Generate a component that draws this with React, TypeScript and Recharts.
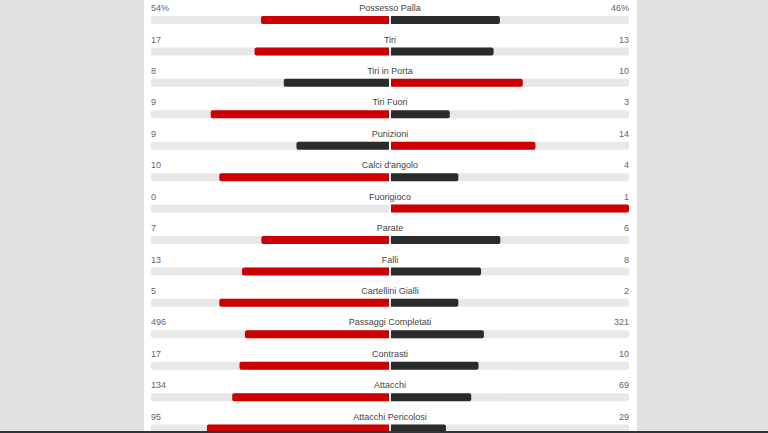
import { BarChart, Bar, XAxis, YAxis, Cell, LabelList, Rectangle } from "recharts";

const stats = [
  "Possesso Palla",
  "Tiri",
  "Tiri in Porta",
  "Tiri Fuori",
  "Punizioni",
  "Calci d'angolo",
  "Fuorigioco",
  "Parate",
  "Falli",
  "Cartellini Gialli",
  "Passaggi Completati",
  "Contrasti",
  "Attacchi",
  "Attacchi Pericolosi",
];
const home = [54, 17, 8, 9, 9, 10, 0, 7, 13, 5, 496, 17, 134, 95];
const away = [46, 13, 10, 3, 14, 4, 1, 6, 8, 2, 321, 10, 69, 29];
const suffix = ["%", "", "", "", "", "", "", "", "", "", "", "", "", ""];

const RED = "#cc0000";
const DARK = "#2b2b2b";
const TRACK = "#e8e8e8";

const data = stats.map((name, i) => {
  const total = home[i] + away[i] || 1;
  return {
    name,
    trackL: [-1, 0],
    trackR: [0, 1],
    left: [-home[i] / total, 0],
    right: [0, away[i] / total],
  };
});

// half bars leave a 1px white gap either side of the centre line
function LeftShape(props: any) {
  const { x, y, width, height, fill } = props;
  const w = Math.abs(width) - 1;
  if (w <= 0) return null;
  return <Rectangle x={x} y={y} width={w} height={height} fill={fill} radius={[2, 0, 0, 2]} />;
}

function RightShape(props: any) {
  const { x, y, width, height, fill } = props;
  const w = Math.abs(width) - 1;
  if (w <= 0) return null;
  return <Rectangle x={x + 1} y={y} width={w} height={height} fill={fill} radius={[0, 2, 2, 0]} />;
}

function RowLabels(props: any) {
  const { x, y, width, index } = props;
  const ty = y - 7.8;
  const font = { fontFamily: "Liberation Sans, Arial, sans-serif", fontSize: 9 };
  return (
    <g>
      <text x={x} y={ty} dominantBaseline="central" textAnchor="start" fill="#666" {...font}>
        {home[index] + suffix[index]}
      </text>
      <text x={x + width} y={ty} dominantBaseline="central" textAnchor="middle" fill="#444" {...font}>
        {stats[index]}
      </text>
      <text x={x + width * 2} y={ty} dominantBaseline="central" textAnchor="end" fill="#666" {...font}>
        {away[index] + suffix[index]}
      </text>
    </g>
  );
}

export default function App() {
  return (
    <div
      style={{
        position: "fixed",
        left: 0,
        top: 0,
        width: 768,
        height: 433,
        overflow: "hidden",
        background: "#e1e1e1",
      }}
    >
      <div style={{ position: "absolute", left: 144, top: 0, width: 493, height: 433, background: "#fff" }} />
      <div style={{ position: "absolute", left: 0, top: 0 }}>
        <BarChart
          width={768}
          height={450}
          data={data}
          layout="vertical"
          barSize={8}
          barGap={-8}
          margin={{ top: 4, right: 139, bottom: 6, left: 151 }}
        >
          <XAxis type="number" domain={[-1, 1]} hide />
          <YAxis type="category" dataKey="name" hide />
          <Bar dataKey="trackL" fill={TRACK} shape={LeftShape} isAnimationActive={false}>
            <LabelList dataKey="name" content={RowLabels} />
          </Bar>
          <Bar dataKey="trackR" fill={TRACK} shape={RightShape} isAnimationActive={false} />
          <Bar dataKey="left" shape={LeftShape} isAnimationActive={false}>
            {data.map((_, i) => (
              <Cell key={i} fill={home[i] > away[i] ? RED : DARK} />
            ))}
          </Bar>
          <Bar dataKey="right" shape={RightShape} isAnimationActive={false}>
            {data.map((_, i) => (
              <Cell key={i} fill={away[i] > home[i] ? RED : DARK} />
            ))}
          </Bar>
        </BarChart>
      </div>
      <div style={{ position: "absolute", left: 0, top: 431, width: 768, height: 2, background: "#2b363c" }} />
    </div>
  );
}
